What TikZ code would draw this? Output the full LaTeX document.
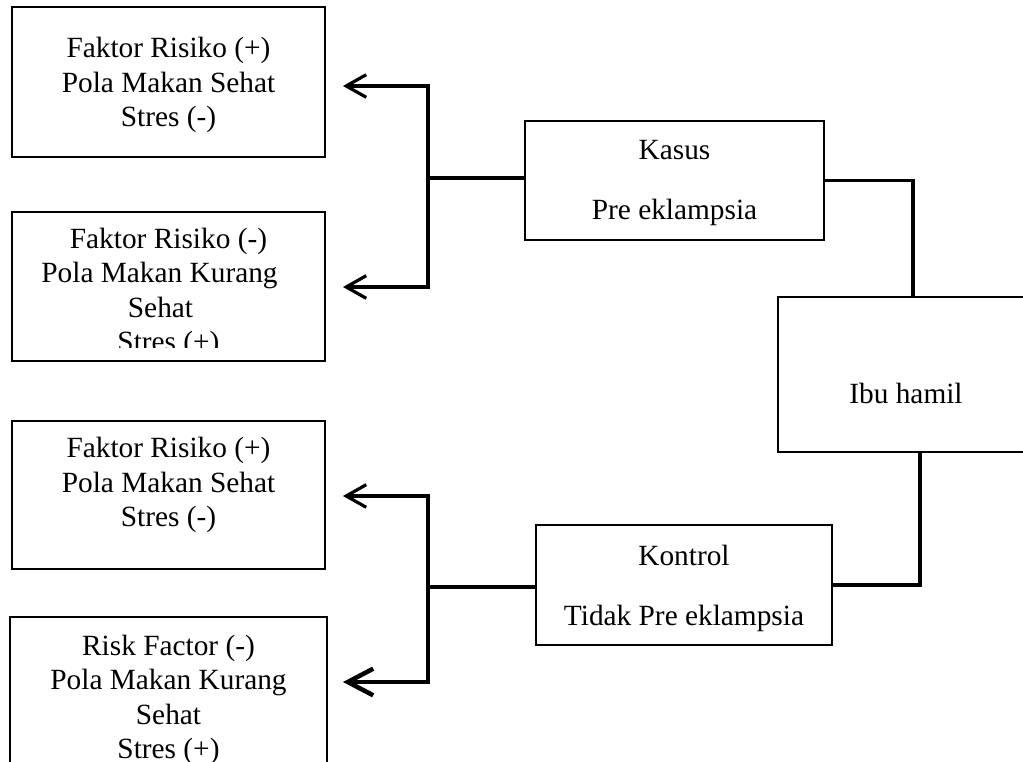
\documentclass[tikz,border=0pt]{standalone}
\usepackage{fontspec}
\setmainfont{Liberation Serif}
\usepackage{tikz}
\usetikzlibrary{arrows.meta}
\tikzset{
  box/.style={draw, line width=1.5pt, inner sep=0pt},
  txt/.style={align=center, inner sep=0pt, font=\fontsize{22}{25.7}\selectfont},
  pair/.style={align=center, inner sep=0pt, font=\fontsize{22}{45}\selectfont},
  conn/.style={line width=2.4pt},
}

\begin{document}
\begin{tikzpicture}[>={Straight Barb[length=15pt, width=17pt]}, x=0.75pt, y=-0.75pt]
  \clip (0,0) rectangle (1023,762);
  \fill[white] (0,0) rectangle (1023,762);
  % risk factor boxes
  \node[box, minimum width=234.75pt, minimum height=112.5pt] (riskA) at (168.5,82) {};
  \node[box, minimum width=234.75pt, minimum height=111.75pt] (riskB) at (168.5,286.5) {};
  \node[box, minimum width=234.75pt, minimum height=111pt] (riskC) at (168.5,495) {};
  \node[box, minimum width=237.75pt, minimum height=137.25pt] (riskD) at (168.5,708.5) {};
  \node[txt] (riskAtxt) at (168.5,85) {Faktor Risiko (+)\\Pola Makan Sehat\\Stres (-)};
  \begin{scope}
    \clip (12,212) rectangle (325,348);
    \node[txt] (riskBtxt) at (168.5,293) {Faktor Risiko (-)\\Pola Makan Kurang\hbox to 13.5pt{}\\Sehat\hbox to 12pt{}\\Stres (+)};
  \end{scope}
  \node[txt] (riskCtxt) at (168.5,485) {Faktor Risiko (+)\\Pola Makan Sehat\\Stres (-)};
  \node[txt] (riskDtxt) at (168.5,700) {Risk Factor (-)\\Pola Makan Kurang\\Sehat\\Stres (+)};
  % groups
  \node[box, minimum width=224.25pt, minimum height=89.25pt] (kasus) at (674.5,180.5) {};
  \node[box, minimum width=222pt, minimum height=90pt] (kontrol) at (684,585) {};
  \node[box, minimum width=202.5pt, minimum height=116.25pt] (ibu) at (913,374.5) {};
  \node[pair] (kasustxt) at (674.5,183) {Kasus\\Pre eklampsia};
  \node[pair] (kontroltxt) at (684,588) {Kontrol\\Tidak Pre eklampsia};
  \node[txt] (ibutxt) at (906,393) {Ibu hamil};
  % connectors
  \coordinate (forkU) at (428,178);
  \coordinate (forkL) at (428,587);
  \coordinate (tipA) at (343,86);
  \coordinate (tipB) at (343,287);
  \coordinate (tipC) at (343,496);
  \coordinate (tipD) at (343,682);
  \draw[conn] (kasus.east) -| (ibu.north);
  \draw[conn] ([xshift=5.25pt]ibu.south) |- (kontrol.east);
  \draw[conn] (forkU -| kasus.west) -- (forkU);
  \draw[conn, ->] (forkU) |- (tipA);
  \draw[conn, ->] (forkU) |- (tipB);
  \draw[conn] (forkL -| kontrol.west) -- (forkL);
  \draw[conn, ->] (forkL) |- (tipC);
  \draw[line width=3.4pt, -{Straight Barb[length=19pt, width=20pt]}] (forkL) |- (tipD);
\end{tikzpicture}
\end{document}
